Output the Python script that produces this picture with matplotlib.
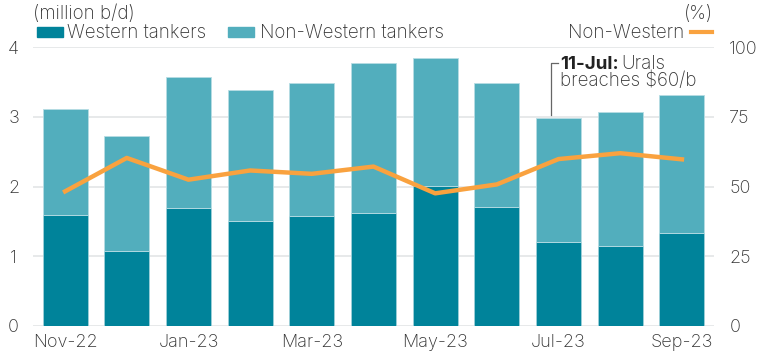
import numpy as np
import matplotlib
matplotlib.use("Agg")
import matplotlib.pyplot as plt
from matplotlib.patches import Rectangle
from matplotlib.lines import Line2D

months = ["Nov-22", "Dec-22", "Jan-23", "Feb-23", "Mar-23", "Apr-23",
          "May-23", "Jun-23", "Jul-23", "Aug-23", "Sep-23"]
western = [1.60, 1.08, 1.70, 1.50, 1.58, 1.62, 2.01, 1.71, 1.20, 1.15, 1.33]
total = [3.11, 2.73, 3.58, 3.39, 3.49, 3.77, 3.84, 3.49, 2.99, 3.07, 3.31]
non_western = [t - w for t, w in zip(total, western)]
share_pct = [48.3, 60.3, 52.5, 55.8, 54.6, 57.2, 47.6, 50.8, 59.9, 62.0, 59.8]

DARK = "#00839a"
LIGHT = "#52aebd"
ORANGE = "#f9a23f"
GRID = "#e3e5e6"
TEXT = "#333333"
FS = 13.5      # legend / annotation text
FS_TICK = 13

plt.rcParams["font.family"] = ["Inter", "DejaVu Sans"]
plt.rcParams["font.weight"] = "light"
plt.rcParams["font.size"] = FS

fig = plt.figure(figsize=(7.68, 3.61), dpi=100)
ax = fig.add_axes([33 / 768, 35 / 361, 681 / 768, 278.7 / 361])
x = np.arange(len(months))

ax.bar(x, western, width=0.73, color=DARK, edgecolor="#9fd0d9", linewidth=0.6, zorder=2)
ax.bar(x, non_western, bottom=western, width=0.73, color=LIGHT,
       edgecolor="#b7dde4", linewidth=0.6, zorder=2)

ax.set_xlim(-0.52, 10.52)
ax.set_ylim(0, 4)
ax.set_yticks([0, 1, 2, 3, 4])
ax.set_xticks(x[::2])
ax.set_xticklabels(months[::2])
ax.grid(axis="y", color=GRID, linewidth=1.2, zorder=0)
for s in ax.spines.values():
    s.set_visible(False)
ax.tick_params(axis="both", length=0, labelsize=FS_TICK, colors=TEXT)
ax.tick_params(axis="y", pad=14)
ax.tick_params(axis="x", pad=6)
for lab in ax.get_yticklabels():
    lab.set_horizontalalignment("center")

ax2 = ax.twinx()
ax2.plot(x, share_pct, color=ORANGE, linewidth=3.2, zorder=3)
ax2.set_ylim(0, 100)
ax2.set_yticks([0, 25, 50, 75, 100])
for s in ax2.spines.values():
    s.set_visible(False)
ax2.tick_params(axis="y", length=0, labelsize=FS_TICK, colors=TEXT, pad=11)

# annotation for 11-Jul
ax.add_line(Line2D([7.88, 7.88, 7.99], [3.03, 3.77, 3.77], color="#666666",
                   linewidth=0.9, zorder=4))
tb = ax.text(8.02, 3.69, "11-Jul:", fontsize=FS, color="#222222", va="baseline",
             ha="left", fontweight="bold")
fig.canvas.draw()
bb = tb.get_window_extent(renderer=fig.canvas.get_renderer())
x_end = ax.transData.inverted().transform((bb.x1 + 3, bb.y0))[0]
ax.text(x_end, 3.69, "Urals", fontsize=FS, color=TEXT, va="baseline", ha="left")
ax.text(8.02, 3.44, "breaches $60/b", fontsize=FS, color=TEXT, va="baseline", ha="left")

# header texts and legend
fig.text(33 / 768, 1 - 19.5 / 361, "(million b/d)", fontsize=FS, color=TEXT, va="baseline", ha="left")
fig.text(713 / 768, 1 - 19.5 / 361, "(%)", fontsize=FS, color=TEXT, va="baseline", ha="right")

fig.patches.append(Rectangle((37 / 768, 1 - 37 / 361), 26 / 768, 10 / 361,
                             transform=fig.transFigure, color=DARK))
fig.text(67 / 768, 1 - 37.5 / 361, "Western tankers", fontsize=FS, color=TEXT, va="baseline", ha="left")
fig.patches.append(Rectangle((228 / 768, 1 - 37 / 361), 26 / 768, 10 / 361,
                             transform=fig.transFigure, color=LIGHT))
fig.text(260 / 768, 1 - 37.5 / 361, "Non-Western tankers", fontsize=FS, color=TEXT, va="baseline", ha="left")
fig.text(684 / 768, 1 - 37.5 / 361, "Non-Western", fontsize=FS, color=TEXT, va="baseline", ha="right")
fig.lines.append(Line2D([691 / 768, 712 / 768], [1 - 32 / 361, 1 - 32 / 361],
                        transform=fig.transFigure, color=ORANGE, linewidth=3))

fig.savefig("out.png", dpi=100)
